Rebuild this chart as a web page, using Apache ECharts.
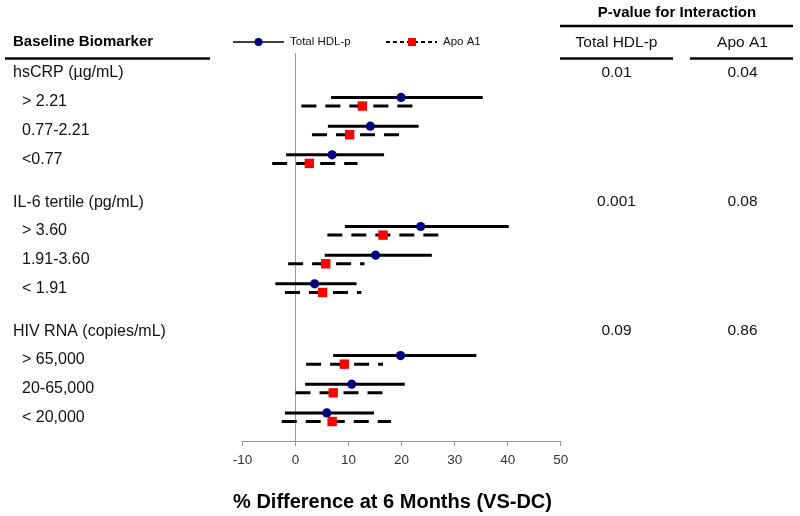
<!DOCTYPE html>
<html>
<head>
<meta charset="utf-8">
<script src="https://cdn.jsdelivr.net/npm/echarts@6/dist/echarts.min.js"></script>
<style>
html,body{margin:0;padding:0;background:#fff;}
#chart{width:800px;height:516px;}
</style>
</head>
<body>
<div id="chart"></div>
<script>
// ---- data ----
const groupTitles = ['hsCRP (µg/mL)', 'IL-6 tertile (pg/mL)', 'HIV RNA (copies/mL)'];
const subgroupLabels = [
  ['> 2.21', '0.77-2.21', '<0.77'],
  ['> 3.60', '1.91-3.60', '< 1.91'],
  ['> 65,000', '20-65,000', '< 20,000']
];
const hdlEst  = [19.9, 14.1, 6.9, 23.6, 15.1, 3.6, 19.8, 10.6, 5.9];
const hdlLow  = [6.7, 6.1, -1.8, 9.3, 5.5, -3.8, 7.1, 1.8, -2.0];
const hdlHigh = [35.3, 23.2, 16.7, 40.2, 25.7, 11.5, 34.1, 20.6, 14.8];
const apoEst  = [12.6, 10.2, 2.6, 16.5, 5.7, 5.1, 9.2, 7.1, 6.9];
const apoLow  = [1.1, 3.1, -4.4, 6.0, -1.4, -2.0, 2.0, 0.0, -2.6];
const apoHigh = [23.6, 19.8, 11.7, 28.3, 13.0, 12.4, 16.5, 16.4, 18.0];
const pHdl = ['0.01', '0.001', '0.09'];
const pApo = ['0.04', '0.08', '0.86'];
const xMin = -10, xMax = 50, xInterval = 10;
const seriesNames = ['Total HDL-p', 'Apo A1'];

// ---- layout helpers (row index structure) ----
const GROUP_STEP = 4.5;
const headerRows = groupTitles.map((t, g) => g * GROUP_STEP);
const subRows = [];
const subTexts = [];
subgroupLabels.forEach((arr, g) => arr.forEach((s, i) => { subRows.push(g * GROUP_STEP + 1 + i); subTexts.push(s); }));

const FONT = '"Liberation Sans", Arial, Helvetica, sans-serif';

function ciSeries(name, low, est, high, offset, dashed, marker) {
  return {
    name: name,
    type: 'custom',
    clip: false,
    data: est.map((v, i) => [low[i], high[i], v, subRows[i]]),
    encode: { x: [0, 1, 2], y: 3 },
    renderItem: function (params, api) {
      const y = api.coord([0, api.value(3)])[1] + offset;
      const x1 = api.coord([api.value(0), 0])[0];
      const x2 = api.coord([api.value(1), 0])[0];
      const xc = api.coord([api.value(2), 0])[0];
      const line = { type: 'line', shape: { x1: x1, y1: y, x2: x2, y2: y },
        style: { stroke: '#000', lineWidth: 3, lineDash: dashed ? [15, 9] : null } };
      const mk = marker === 'circle'
        ? { type: 'circle', shape: { cx: xc, cy: y, r: 4.6 }, style: { fill: '#000080' } }
        : { type: 'rect', shape: { x: xc - 4.7, y: y - 4.7, width: 9.4, height: 9.4 }, style: { fill: '#ff0000' } };
      return { type: 'group', children: [line, mk] };
    },
    z: 3
  };
}

function textSeries(rows, texts, x, align, fontSize, z) {
  return {
    type: 'custom',
    clip: false,
    silent: true,
    data: rows.map(r => [0, r]),
    encode: { x: 0, y: 1 },
    renderItem: function (params, api) {
      const y = api.coord([0, api.value(1)])[1];
      return { type: 'text', x: x, y: y,
        style: { text: texts[params.dataIndex], fill: '#111', fontSize: fontSize, fontFamily: FONT,
          align: align, verticalAlign: 'middle' } };
    },
    z: z || 2
  };
}

const chart = echarts.init(document.getElementById('chart'), null, { renderer: 'canvas' });

const option = {
  backgroundColor: '#fff',
  animation: false,
  grid: { left: 242.5, right: 239.3, top: 53, bottom: 75 },
  xAxis: {
    type: 'value', min: xMin, max: xMax, interval: xInterval, position: 'bottom',
    axisLine: { show: true, onZero: false, lineStyle: { color: '#999', width: 1 } },
    axisTick: { show: true, length: 5, lineStyle: { color: '#999' } },
    axisLabel: { color: '#333', fontSize: 13.5, fontFamily: FONT, margin: 12 },
    splitLine: { show: false }
  },
  yAxis: {
    type: 'value', min: -0.7, max: 12.83, inverse: true, show: false, splitLine: { show: false }
  },
  series: [
    Object.assign(ciSeries(seriesNames[0], hdlLow, hdlEst, hdlHigh, -4.3, false, 'circle'), {
      markLine: { silent: true, symbol: 'none', label: { show: false },
        lineStyle: { color: '#999', width: 1, type: 'solid' }, data: [{ xAxis: 0 }], z: 1 }
    }),
    ciSeries(seriesNames[1], apoLow, apoEst, apoHigh, 4.3, true, 'square'),
    textSeries(headerRows, groupTitles, 13, 'left', 16),
    textSeries(subRows, subTexts, 22, 'left', 16),
    textSeries(headerRows, pHdl, 616.5, 'center', 15.5),
    textSeries(headerRows, pApo, 742.5, 'center', 15.5)
  ],
  graphic: [
    // left header
    { type: 'text', left: 13, top: 34, style: { text: 'Baseline Biomarker', fontSize: 15, fontWeight: 'bold', fontFamily: FONT, fill: '#000' } },
    { type: 'line', shape: { x1: 5, y1: 58.5, x2: 210, y2: 58.5 }, style: { stroke: '#000', lineWidth: 2.5 } },
    // p-value headers
    { type: 'text', x: 677, y: 13, style: { text: 'P-value for Interaction', fontSize: 15, fontWeight: 'bold', fontFamily: FONT, fill: '#000', align: 'center', verticalAlign: 'middle' } },
    { type: 'line', shape: { x1: 560, y1: 26, x2: 793, y2: 26 }, style: { stroke: '#000', lineWidth: 2.5 } },
    { type: 'text', x: 616.5, y: 43, style: { text: seriesNames[0], fontSize: 15.5, fontFamily: FONT, fill: '#111', align: 'center', verticalAlign: 'middle' } },
    { type: 'text', x: 742.5, y: 43, style: { text: seriesNames[1], fontSize: 15.5, fontFamily: FONT, fill: '#111', align: 'center', verticalAlign: 'middle' } },
    { type: 'line', shape: { x1: 560, y1: 58.5, x2: 673, y2: 58.5 }, style: { stroke: '#000', lineWidth: 2.5 } },
    { type: 'line', shape: { x1: 690, y1: 58.5, x2: 793, y2: 58.5 }, style: { stroke: '#000', lineWidth: 2.5 } },
    // legend
    { type: 'line', shape: { x1: 233, y1: 42, x2: 284, y2: 42 }, style: { stroke: '#000', lineWidth: 1.5 } },
    { type: 'circle', shape: { cx: 258.5, cy: 42, r: 4 }, style: { fill: '#000080' } },
    { type: 'text', x: 290, y: 42, style: { text: seriesNames[0], fontSize: 11.5, fontFamily: FONT, fill: '#111', verticalAlign: 'middle' } },
    { type: 'line', shape: { x1: 386, y1: 42, x2: 437, y2: 42 }, style: { stroke: '#000', lineWidth: 2, lineDash: [4, 3] } },
    { type: 'rect', shape: { x: 408, y: 38, width: 8, height: 8 }, style: { fill: '#ff0000' } },
    { type: 'text', x: 443, y: 42, style: { text: seriesNames[1], fontSize: 11.5, fontFamily: FONT, fill: '#111', verticalAlign: 'middle' } },
    // x axis title
    { type: 'text', x: 392.5, y: 502, style: { text: '% Difference at 6 Months (VS-DC)', fontSize: 20, fontWeight: 'bold', fontFamily: FONT, fill: '#000', align: 'center', verticalAlign: 'middle' } }
  ]
};
chart.setOption(option);
</script>
</body>
</html>
